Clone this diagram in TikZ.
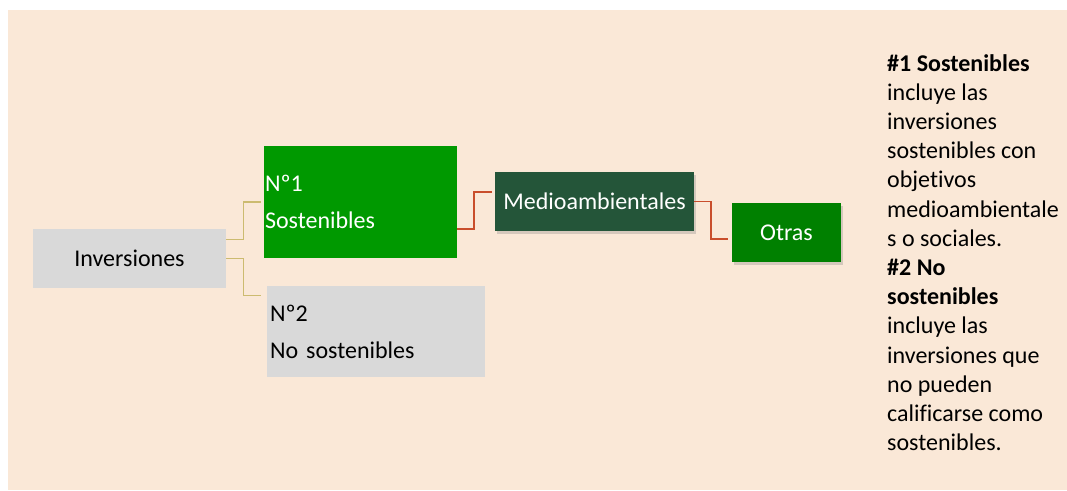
\documentclass[tikz,border=0pt]{standalone}
\usepackage{fontspec}
\setmainfont{Carlito}[Ligatures={NoCommon,TeX}]
\usetikzlibrary{positioning, calc, shadows}
\definecolor{paper}{HTML}{FAE8D7}
\definecolor{boxgray}{HTML}{D9D9D9}
\definecolor{brightgreen}{HTML}{009900}
\definecolor{darkgreen}{HTML}{245539}
\definecolor{midgreen}{HTML}{008000}
\definecolor{linkyellow}{HTML}{CCBB70}
\definecolor{linkred}{HTML}{C94E2C}
\tikzset{
    box/.style={
        rectangle, fill=boxgray, inner sep=0pt,
        minimum width=193pt, minimum height=59pt, align=center,
        font=\fontsize{24}{37}\selectfont
    },
    leafbox/.style={
        box, text=white,
        drop shadow={shadow xshift=1.5pt, shadow yshift=-3pt, opacity=.3}
    },
    linka/.style={
        draw=linkyellow, line width=1.3pt
    },
    linkb/.style={
        draw=linkred, line width=1.6pt
    }
}
\begin{document}
\begin{tikzpicture}[x=1pt, y=-1pt]
        % \draw[help lines, step=50] (0,0) grid (1067,490);
        \useasboundingbox (0,0) rectangle (1067,490);
        \fill[paper] (8,10) rectangle (1067,490);

        \node[box] (inv) at (129.5,258.5) {Inversiones};

        % Sustainable / non sustainable

        \node[box, fill=brightgreen, text=white, minimum height=112pt,
              text width=191pt, inner xsep=1pt, align=left] (nr1) at (360.5,202) {Nº1\\Sostenibles};
        \node[box, minimum width=218pt, minimum height=91pt,
              text width=212pt, inner xsep=3pt, align=left] (nr2) at (376,331.5) {Nº2\\No sostenibles};

        \draw[linka] ($(inv.east)+(0,-19)$) -- ++(17,0) |- ($(nr1.west)+(-3,0)$);
        \draw[linka] (inv.east) -- ++(17,0) |- ($(nr2.north west)+(-6,10)$);

        % Environmental and other

        \node[leafbox, fill=darkgreen, minimum width=199pt] (medio) at (594.5,201.5) {Medioambientales};
        \node[leafbox, fill=midgreen, minimum width=109pt] (otras) at (786.5,232.5) {Otras};

        \draw[linkb] ($(nr1.east)+(0,27)$) -- ++(17,0) |- ($(medio.west)+(-3,-9.5)$);
        \draw[linkb] (medio.east) -- ++(17,0) |- ($(otras.west)+(-4,6.5)$);

        % Legend

        \node[anchor=north west, inner sep=0pt, align=left,
              font=\fontsize{24}{29.2}\selectfont] (legend) at (887,54)
              {\textbf{\#1 Sostenibles}\\incluye las\\inversiones\\sostenibles con\\objetivos\\medioambientale\\s o sociales.\\\textbf{\#2 No}\\\textbf{sostenibles}\\incluye las\\inversiones que\\no pueden\\calificarse como\\sostenibles.};
\end{tikzpicture}
\end{document}
